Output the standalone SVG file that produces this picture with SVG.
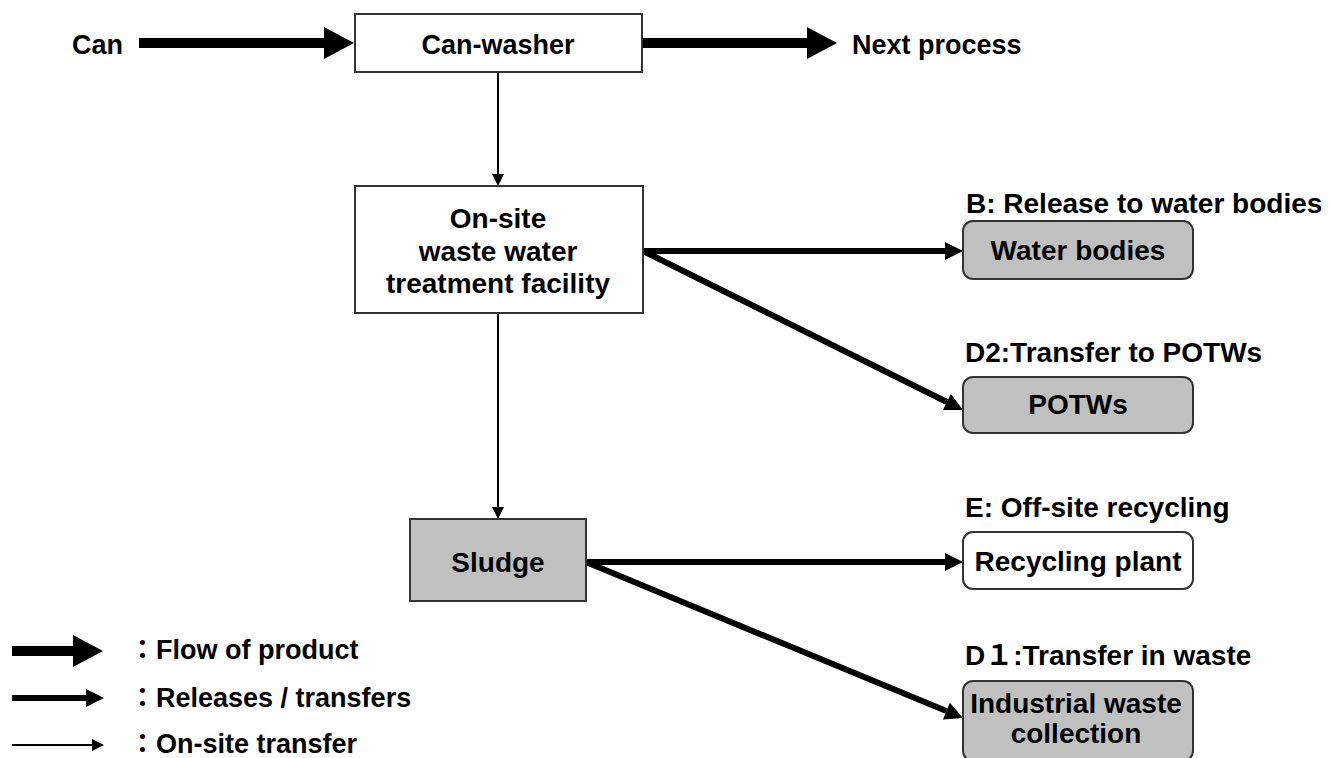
<svg xmlns="http://www.w3.org/2000/svg" width="1331" height="758" viewBox="0 0 1331 758">
<style>
text{font-family:"Liberation Sans","Noto Sans CJK JP",Arial,sans-serif;font-weight:bold;font-size:28px;fill:#000}
.s{font-size:27px}
.c{text-anchor:middle}
.box{stroke:#333;stroke-width:2}
.w{fill:#fff}
.g{fill:#c0c0c0}
.thick{stroke:#000;stroke-width:10;fill:none}
.med{stroke:#000;stroke-width:6;fill:none}
.thin{stroke:#000;stroke-width:2;fill:none}
</style>
<defs>
<marker id="hThick" markerUnits="userSpaceOnUse" markerWidth="30" markerHeight="32" refX="0" refY="16" orient="auto" overflow="visible"><path d="M0,0 L30,16 L0,32 z" fill="#000"/></marker>
<marker id="hMed" markerUnits="userSpaceOnUse" markerWidth="18" markerHeight="18" refX="0" refY="9" orient="auto" overflow="visible"><path d="M0,0 L18,9 L0,18 z" fill="#000"/></marker>
<marker id="hThin" markerUnits="userSpaceOnUse" markerWidth="12" markerHeight="12" refX="0" refY="6" orient="auto" overflow="visible"><path d="M0,0 L12,6 L0,12 z" fill="#000"/></marker>
</defs>
<rect width="1331" height="758" fill="#fff"/>

<g id="connectors">
<line class="thick" x1="139" y1="43" x2="324" y2="43" marker-end="url(#hThick)"/>
<line class="thick" x1="642" y1="43" x2="807" y2="43" marker-end="url(#hThick)"/>
<line class="thin" x1="498" y1="72" x2="498" y2="174" marker-end="url(#hThin)"/>
<line class="thin" x1="498" y1="313" x2="498" y2="507" marker-end="url(#hThin)"/>
<line class="med" x1="643" y1="251" x2="945" y2="251" marker-end="url(#hMed)"/>
<line class="med" x1="643" y1="251" x2="946.9" y2="402" marker-end="url(#hMed)"/>
<line class="med" x1="586" y1="562" x2="945" y2="562" marker-end="url(#hMed)"/>
<line class="med" x1="586" y1="562" x2="946.4" y2="711.1" marker-end="url(#hMed)"/>
</g>

<g id="can"><text class="s" x="72" y="54">Can</text></g>
<g id="next"><text class="s" x="852" y="54">Next process</text></g>

<g id="canwasher">
<rect class="box w" x="355" y="14" width="287" height="58"/>
<text class="c s" x="498" y="54">Can-washer</text>
</g>

<g id="wwtf">
<rect class="box w" x="355" y="186" width="288" height="127"/>
<text class="c" x="498" y="228">On-site</text>
<text class="c" x="498" y="261">waste water</text>
<text class="c" x="498" y="293">treatment facility</text>
</g>

<g id="sludge">
<rect class="box g" x="410" y="519" width="176" height="82"/>
<text class="c" x="498" y="572">Sludge</text>
</g>

<g id="water">
<text x="966" y="213">B: Release to water bodies</text>
<rect class="box g" x="963" y="221" width="230" height="58" rx="10"/>
<text class="c" x="1078" y="260">Water bodies</text>
</g>

<g id="potws">
<text x="965" y="362">D2:Transfer to POTWs</text>
<rect class="box g" x="963" y="377" width="230" height="56" rx="10"/>
<text class="c" x="1078" y="414">POTWs</text>
</g>

<g id="recycling">
<text x="965" y="517">E: Off-site recycling</text>
<rect class="box w" x="963" y="532" width="230" height="57" rx="10"/>
<text class="c" x="1078" y="571">Recycling plant</text>
</g>

<g id="industrial">
<text x="965" y="665">D１:Transfer in waste</text>
<rect class="box g" x="963" y="681" width="230" height="80" rx="10"/>
<text class="c" x="1076" y="713">Industrial waste</text>
<text class="c" x="1076" y="743">collection</text>
</g>

<g id="legend">
<line class="thick" x1="12" y1="651" x2="73" y2="651" marker-end="url(#hThick)"/>
<line class="med" x1="12" y1="698" x2="86" y2="698" marker-end="url(#hMed)"/>
<line class="thin" x1="12" y1="745" x2="92" y2="745" marker-end="url(#hThin)"/>
<text class="s" x="129" y="659">：Flow of product</text>
<text class="s" x="129" y="707">：Releases / transfers</text>
<text class="s" x="129" y="753">：On-site transfer</text>
</g>
</svg>
